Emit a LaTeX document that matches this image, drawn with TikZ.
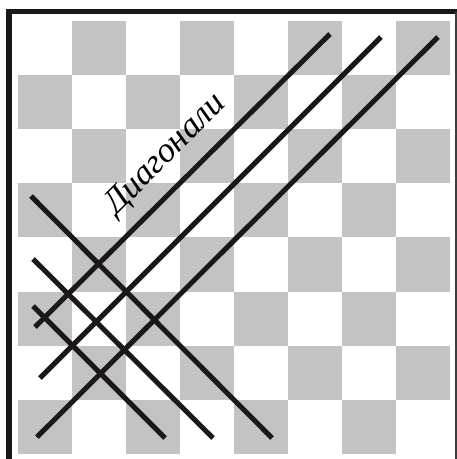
\documentclass[tikz,border=0pt]{standalone}
\usepackage{fontspec}
\setmainfont{Liberation Serif}
\definecolor{sqgray}{RGB}{195,195,195}
\definecolor{inkblack}{RGB}{28,24,24}
\begin{document}
\begin{tikzpicture}[x=1pt,y=-1pt,
  diag/.style={draw=inkblack,line width=5pt,line cap=butt},
  frameline/.style={draw=inkblack,line cap=butt}]
\useasboundingbox (0,0) rectangle (457,459);
\fill[white] (0,0) rectangle (457,459);
% board
\foreach \i in {0,...,7}{
  \foreach \j in {0,...,7}{
    \pgfmathparse{int(mod(\i+\j,2))}
    \ifnum\pgfmathresult=1
      \fill[sqgray] ({18+54*\i},{21+54.1*\j}) rectangle ({18+54*(\i+1)},{21+54.1*(\j+1)});
    \fi
  }
}
% frame
\draw[frameline,line width=6pt] (9,459) -- (9,11.5);
\draw[frameline,line width=5pt] (6,11.5) -- (457,11.5);
\draw[draw=inkblack!85,line width=2pt] (456,11.5) -- (456,459);
% rising diagonals
\coordinate (r1a) at (35,327); \coordinate (r1b) at (330,34);
\coordinate (r2a) at (40,378); \coordinate (r2b) at (381,37);
\coordinate (r3a) at (37,437); \coordinate (r3b) at (438,37);
\draw[diag] (r1a) -- (r1b);
\draw[diag] (r2a) -- (r2b);
\draw[diag] (r3a) -- (r3b);
% falling diagonals
\coordinate (f1a) at (31,196); \coordinate (f1b) at (272,438);
\coordinate (f2a) at (33,259); \coordinate (f2b) at (213,438);
\coordinate (f3a) at (33,306); \coordinate (f3b) at (165,438);
\draw[diag] (f1a) -- (f1b);
\draw[diag] (f2a) -- (f2b);
\draw[diag] (f3a) -- (f3b);
% label
\node[rotate=45,inner sep=0pt,font=\fontsize{35}{38}\selectfont\itshape] (lbl) at (166,155) {Диагонали};
\end{tikzpicture}
\end{document}
